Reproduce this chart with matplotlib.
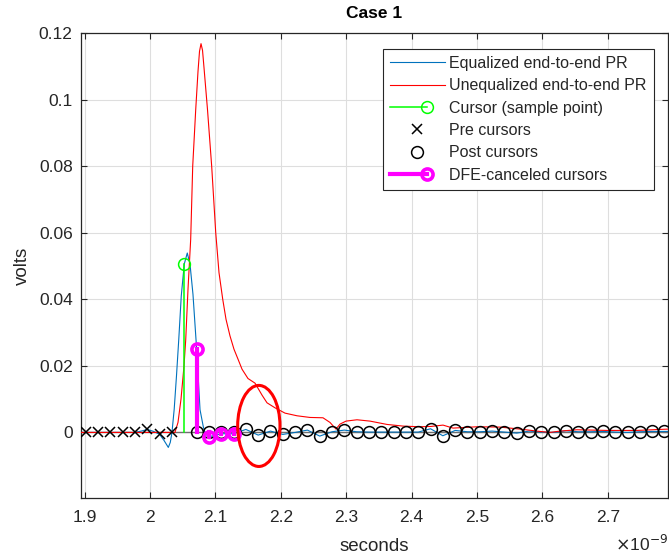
import numpy as np
import matplotlib
matplotlib.use("Agg")
import matplotlib.pyplot as plt
from matplotlib.lines import Line2D
from matplotlib.patches import Ellipse
from matplotlib.legend_handler import HandlerBase

plt.rcParams['font.family'] = ['Liberation Sans', 'DejaVu Sans']

# sampling grid (ns)
t_cursor = 2.05245
ui = 0.018824

cursor_val = 0.0506
# pre cursors, k = -8 .. -1
pre_vals = [0.0, 0.0, 0.0, 0.0, 0.0, 0.0009, -0.0006, 0.0]
# DFE taps, k = 1 .. 4
dfe_vals = [0.0251, -0.0013, -0.0004, -0.0004]
# post cursors k = 1 .. 39 (first four are cancelled by the DFE)
post_vals = [0.0, 0.0, 0.0, 0.0,
             0.0009, -0.0008, 0.0004, -0.0006, 0.0000, 0.0007, -0.0011, 0.0002,
             0.0007, 0.0002, 0.0001, 0.0001, 0.0001, 0.0001, 0.0001, 0.0011,
             -0.0010, 0.0006, 0.0002, 0.0002, 0.0004, 0.0001, -0.0002, 0.0004,
             0.0001, 0.0000, 0.0005, 0.0002, 0.0002, 0.0003, 0.0001, 0.0000,
             0.0002, 0.0003, 0.0003]

# equalized pulse around the main lobe (ns, V)
eq_t = [1.8945, 1.9772, 1.9866, 1.9960, 2.0055, 2.0148, 2.0214, 2.0280, 2.0310,
        2.0336, 2.0370, 2.0405, 2.0440, 2.0478, 2.0524, 2.0570, 2.0612, 2.0657,
        2.0713, 2.0765, 2.0815, 2.0849]
eq_v = [0.0, 0.0, 0.0004, 0.0009, 0.0003, -0.0006, -0.0024, -0.0045, -0.0030,
        0.0, 0.007, 0.017, 0.028, 0.041, 0.0506, 0.0539, 0.0505, 0.0415,
        0.0251, 0.0068, 0.0017, -0.0005]

# unequalized pulse (ns, V)
uneq_t = [1.8945, 2.0382, 2.0428, 2.0474, 2.0520, 2.0546, 2.0581, 2.0622, 2.0653,
          2.0699, 2.0734, 2.0757, 2.0780, 2.0803, 2.0826, 2.0879, 2.0943, 2.1005,
          2.1055, 2.1112, 2.1162, 2.1223, 2.1284, 2.1350, 2.1407, 2.1498, 2.1606,
          2.1713, 2.1789, 2.1911, 2.2064, 2.2248, 2.2446, 2.2645, 2.2752, 2.2844,
          2.2905, 2.2997, 2.3165, 2.3364, 2.3624, 2.3869, 2.4128, 2.4297, 2.4480,
          2.4633, 2.5000, 2.5352, 2.5657, 2.5963, 2.6116, 2.6269, 2.6529, 2.6988,
          2.7446, 2.7920]
uneq_v = [0.0, 0.0, 0.003, 0.010, 0.020, 0.0278, 0.043, 0.058, 0.080,
          0.097, 0.1085, 0.1145, 0.1168, 0.1148, 0.1095, 0.097, 0.080, 0.060,
          0.048, 0.040, 0.034, 0.029, 0.025, 0.0218, 0.019, 0.0162, 0.0148,
          0.0112, 0.0089, 0.0074, 0.0058, 0.0050, 0.0045, 0.0044, 0.0030, 0.0010,
          0.0025, 0.0034, 0.0038, 0.0034, 0.0024, 0.0019, 0.0017, 0.0018, 0.0022,
          0.0013, 0.0017, 0.0016, 0.0010, 0.0003, 0.0, 0.0004, 0.0008, 0.0006,
          0.0006, 0.0010]

xticks = [1.9, 2.0, 2.1, 2.2, 2.3, 2.4, 2.5, 2.6, 2.7]
xticklabels = ['1.9', '2', '2.1', '2.2', '2.3', '2.4', '2.5', '2.6', '2.7']
yticks = [0, 0.02, 0.04, 0.06, 0.08, 0.1, 0.12]
yticklabels = ['0', '0.02', '0.04', '0.06', '0.08', '0.1', '0.12']

pre_t = t_cursor + ui * np.arange(-len(pre_vals), 0)
post_t = t_cursor + ui * np.arange(1, len(post_vals) + 1)
dfe_t = post_t[:len(dfe_vals)]

# blue trace: main lobe followed by the sampled tail
blue_t = np.concatenate([eq_t, dfe_t[1:], post_t[len(dfe_vals):], [2.792]])
blue_v = np.concatenate([eq_v, dfe_vals[1:], post_vals[len(dfe_vals):], [post_vals[-1]]])

BLUE = '#0072BD'
TXT = '#262626'


class StemHandler(HandlerBase):
    def create_artists(self, legend, orig, xdescent, ydescent, width, height, fontsize, trans):
        y = (height - ydescent) / 2.0
        x0 = -xdescent
        xm = x0 + 0.68 * width
        ln = Line2D([x0, xm], [y, y], color=orig.get_color(), lw=orig.get_linewidth())
        mk = Line2D([xm], [y], ls='none', marker='o', ms=orig.get_markersize(),
                    mec=orig.get_color(), mfc='none', mew=orig.get_markeredgewidth())
        ln.set_transform(trans)
        mk.set_transform(trans)
        return [ln, mk]


fig = plt.figure(figsize=(6.69, 5.57), dpi=100)
ax = fig.add_axes([81 / 669, 1 - 498 / 557, 587 / 669, 465 / 557])

ax.axhline(0, color='#707070', lw=1.0, zorder=1)
ax.plot(blue_t, blue_v, color=BLUE, lw=0.8, zorder=2)
ax.plot(uneq_t, uneq_v, color='red', lw=0.8, zorder=3)

# cursor stem
ax.plot([t_cursor, t_cursor], [0, cursor_val], color='#00FF00', lw=1.1, zorder=4)
ax.plot([t_cursor], [cursor_val], ls='none', marker='o', ms=8.5, mfc='none',
        mec='#00FF00', mew=1.1, zorder=4)

ax.plot(pre_t, pre_vals, ls='none', marker='x', ms=6.5, color='black', mew=1.1, zorder=5)
ax.plot(post_t, post_vals, ls='none', marker='o', ms=8.5, mfc='none', mec='black',
        mew=1.1, zorder=5)

# DFE-cancelled taps
for t, v in zip(dfe_t, dfe_vals):
    ax.plot([t, t], [0, v], color='#FF00FF', lw=3.0, zorder=6)
ax.plot(dfe_t, dfe_vals, ls='none', marker='o', ms=8, mfc='none', mec='#FF00FF',
        mew=2.6, zorder=6)

ax.add_patch(Ellipse((2.1664, 0.00195), 0.0647, 0.02435, fill=False,
                     edgecolor='red', lw=2.2, zorder=7))

ax.set_xlim(1.8945, 2.792)
ax.set_ylim(-0.0197, 0.12)
ax.set_xticks(xticks)
ax.set_xticklabels(xticklabels)
ax.set_yticks(yticks)
ax.set_yticklabels(yticklabels)
ax.grid(True, color='#dedede', lw=0.8)
ax.set_axisbelow(True)
ax.tick_params(direction='in', length=4.5, width=0.8, colors=TXT, labelsize=12.5,
               top=True, right=True)
ax.tick_params(axis='x', pad=9)
ax.tick_params(axis='y', pad=6)
for s in ax.spines.values():
    s.set_color(TXT)
    s.set_linewidth(0.9)

ax.set_title('Case 1', fontsize=12.5, fontweight='bold', color='black', pad=10.5)
ax.set_xlabel('seconds', fontsize=13.5, color=TXT, labelpad=9)
ax.set_ylabel('volts', fontsize=13.5, color=TXT, labelpad=6)
fig.text(0.998, 0.006, r'$\times$10$^{-9}$', ha='right', va='bottom', fontsize=12.5,
         color=TXT)

handles = [
    Line2D([], [], color=BLUE, lw=0.8),
    Line2D([], [], color='red', lw=0.8),
    Line2D([], [], color='#00FF00', lw=1.1, marker='o', ms=8.5, mew=1.1),
    Line2D([], [], ls='none', marker='x', ms=6.5, color='black', mew=1.1),
    Line2D([], [], ls='none', marker='o', ms=8.5, mfc='none', mec='black', mew=1.1),
    Line2D([], [], color='#FF00FF', lw=3.0, marker='o', ms=8, mew=2.6),
]
labels = ['Equalized end-to-end PR', 'Unequalized end-to-end PR',
          'Cursor (sample point)', 'Pre cursors', 'Post cursors',
          'DFE-canceled cursors']
leg = ax.legend(handles, labels, loc='upper right', bbox_to_anchor=(0.976, 0.966),
                borderaxespad=0, fontsize=11.5, handlelength=3.4, handletextpad=0.3,
                labelspacing=0.46, borderpad=0.45, fancybox=False, framealpha=1,
                edgecolor=TXT, handler_map={handles[2]: StemHandler(),
                                            handles[5]: StemHandler()})
leg.get_frame().set_linewidth(0.8)
for txt in leg.get_texts():
    txt.set_color(TXT)

fig.savefig('out.png', dpi=100)
